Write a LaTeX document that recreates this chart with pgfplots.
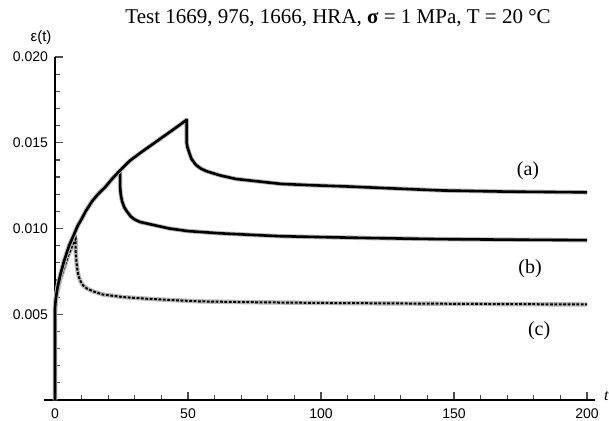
\documentclass[border=0pt]{standalone}
\usepackage{fontspec}
\setmainfont{Liberation Serif}
\setsansfont{Liberation Sans}
\usepackage{pgfplots}
\pgfplotsset{compat=1.18}
\usepackage{pgfplotstable}

% creep and recovery, test (a): loading to t = 50
\pgfplotstableread{
t eps
0 0
0 0.0054
0.3 0.0059
1 0.0066
2 0.0073
3.4 0.0081
5.3 0.0090
7 0.0096
8.5 0.01015
10 0.01055
11.5 0.0110
14 0.0116
16 0.01197
18.8 0.0124
21.5 0.0129
24.4 0.01338
28.2 0.01396
32 0.0144
37 0.01495
42 0.0155
46 0.01594
49.5 0.01634
49.5 0.0150
49.8 0.01474
50.5 0.0144
51.3 0.01406
53 0.0137
55 0.01348
57 0.01334
62 0.0131
68 0.01289
78 0.01272
85 0.0126
97 0.01252
110 0.01245
122 0.01237
145 0.01222
170 0.01215
200 0.01211
}\testA

% test (b): loading to t = 25
\pgfplotstableread{
t eps
0 0
0 0.0054
0.3 0.0059
1 0.0066
2 0.0073
3.4 0.0081
5.3 0.0090
7 0.0096
8.5 0.01015
10 0.01055
11.5 0.0110
14 0.0116
16 0.01197
18.8 0.0124
21.5 0.0129
24.5 0.01340
24.5 0.0124
24.7 0.0120
25.2 0.0116
26 0.01125
27 0.0110
28.5 0.0107
30 0.01052
32 0.01038
36 0.01024
43 0.0100
50 0.00985
62 0.00972
75 0.00962
85 0.00955
100 0.0095
120 0.00944
145 0.00938
170 0.00935
200 0.00932
}\testB

% test (c): loading to t = 7.8
\pgfplotstableread{
t eps
0 0
0 0.0052
0.5 0.0060
1.9 0.0070
3.4 0.0077
4.9 0.0084
6.5 0.0090
7.8 0.0094
7.8 0.0086
8.1 0.0080
8.5 0.0075
9 0.00715
9.7 0.0069
10.6 0.00667
12 0.0065
14.3 0.00634
18 0.00615
25.7 0.0060
35 0.0059
45 0.00582
54.5 0.00575
75 0.0057
100 0.00566
130 0.00563
160 0.0056
200 0.00557
}\testC

\begin{document}
\begin{tikzpicture}
\useasboundingbox (-27.5pt,-10pt) rectangle (277pt,200pt);
\begin{axis}[
  scale only axis,
  width=270pt, height=171.5pt,
  xmin=0, xmax=203, ymin=0, ymax=0.02,
  axis x line*=bottom,
  axis y line*=left,
  axis line style={-, line width=0.6pt},
  clip=false,
  xtick={0,50,100,150,200},
  ytick={0.005,0.010,0.015,0.020},
  minor xtick={10,20,30,40,60,70,80,90,110,120,130,140,160,170,180,190},
  minor ytick={0.001,0.002,0.003,0.004,0.006,0.007,0.008,0.009,0.011,0.012,0.013,0.014,0.016,0.017,0.018,0.019},
  xtick style={draw=black!70, line width=0.6pt},
  ytick style={draw=black!70, line width=0.6pt},
  xtick align=inside,
  ytick align=inside,
  xtick pos=bottom,
  ytick pos=left,
  major tick length=4pt,
  minor tick length=2.5pt,
  /pgf/number format/assume math mode=true,
  ticklabel style={font=\sffamily\fontsize{7}{8}\selectfont},
  yticklabel style={/pgf/number format/fixed, /pgf/number format/fixed zerofill, /pgf/number format/precision=3},
  scaled y ticks=false,
  xticklabel style={yshift=-1pt},
  xlabel={\itshape t},
  every axis x label/.style={at={(axis cs:203,0)}, anchor=south west, xshift=1pt, yshift=-4pt, font=\fontsize{8}{9}\selectfont},
  ylabel={ε(t)},
  every axis y label/.style={at={(axis cs:0,0.02)}, anchor=south, xshift=-7pt, yshift=2.5pt, font=\sffamily\fontsize{7.5}{9}\selectfont},
  title={Test 1669, 976, 1666, HRA, \textbf{σ} = 1 MPa, T = 20 °C},
  every axis title/.style={at={(axis cs:106.4,0.02)}, anchor=base, yshift=17pt, font=\fontsize{10.5}{12}\selectfont},
]
% x axis line continues a little to the left of the origin
\draw[line width=0.6pt] (axis cs:-4,0) -- (axis cs:0,0);
\addplot[gray!55, line width=2.2pt, line join=round] table {\testC};
\addplot[black, line width=1pt, dash pattern=on 1.4pt off 0.8pt] table {\testC};
\addplot[gray!55, line width=2.2pt, line join=round] table {\testB};
\addplot[black, line width=1.3pt, line join=round] table {\testB};
\addplot[gray!55, line width=2.2pt, line join=round] table {\testA};
\addplot[black, line width=1.3pt, line join=round] table {\testA};
\node[font=\fontsize{10}{12}\selectfont] at (axis cs:177.8,0.01338) {(a)};
\node[font=\fontsize{10}{12}\selectfont] at (axis cs:178.6,0.00766) {(b)};
\node[font=\fontsize{10}{12}\selectfont] at (axis cs:182,0.00404) {(c)};
\end{axis}
\end{tikzpicture}
\end{document}
